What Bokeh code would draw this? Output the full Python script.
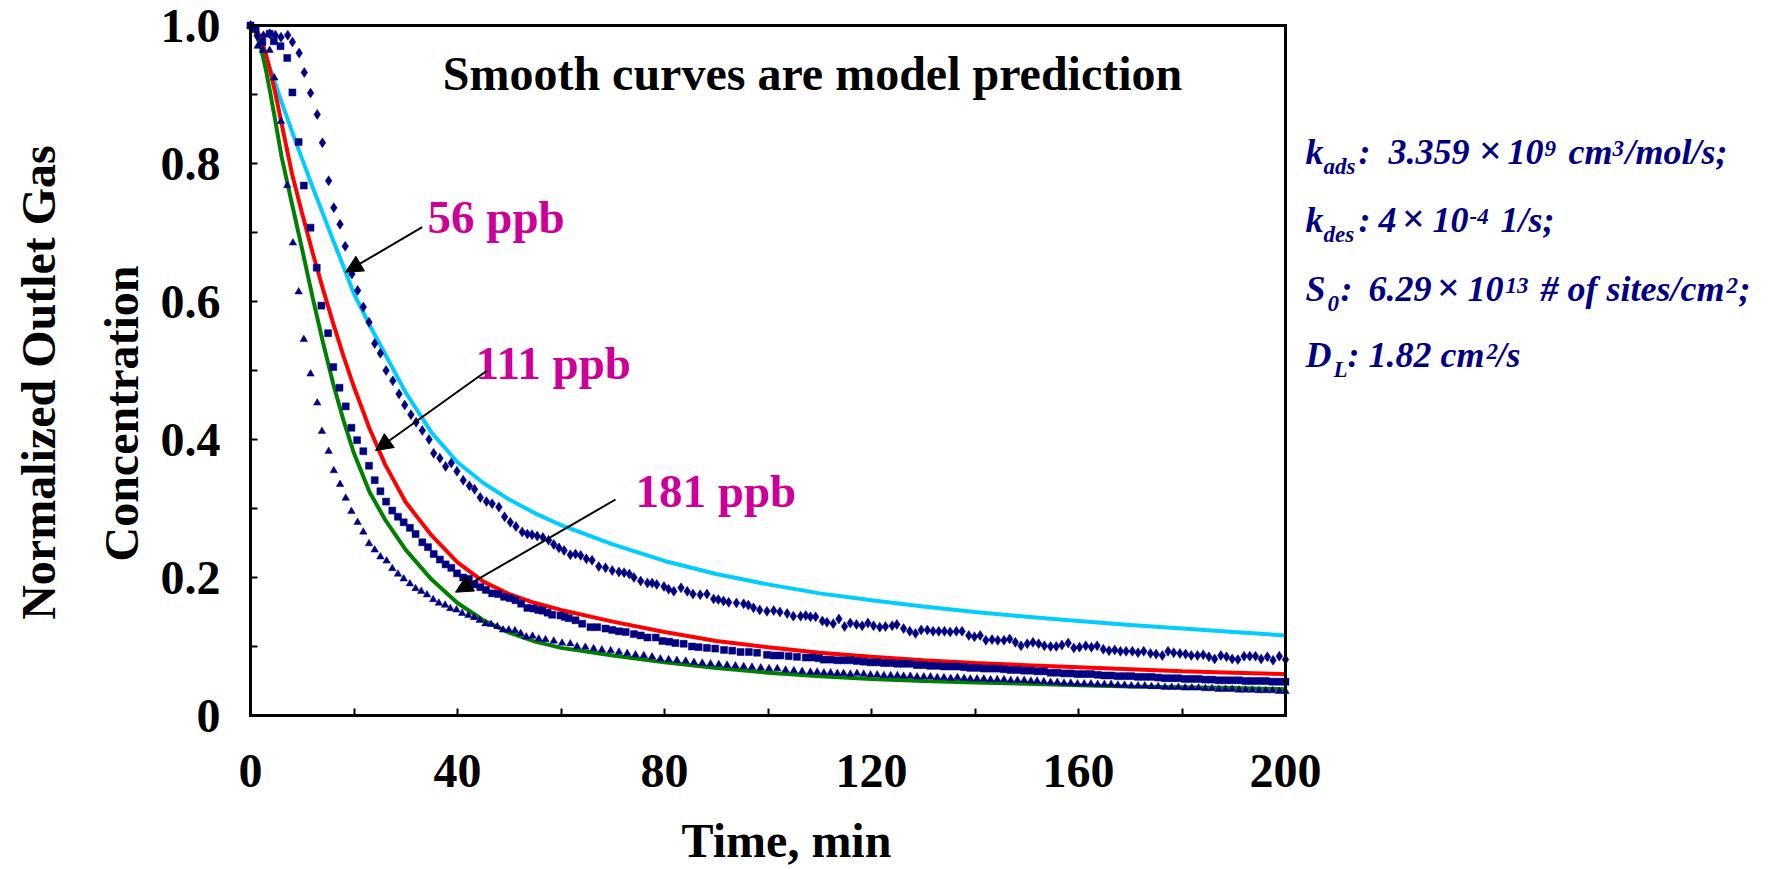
import math
from bokeh.plotting import figure
from bokeh.models import Range1d, FixedTicker, Label, Arrow, NormalHead, LinearAxis
from bokeh.embed import file_html
from bokeh.resources import INLINE

# ---------------- data ----------------
model_t = [0, 1, 2, 3, 4, 5, 6, 8, 10, 12, 14, 16, 18, 20, 23, 26, 30, 35, 40, 45,
           50, 55, 60, 70, 80, 90, 100, 110, 120, 130, 140, 150, 160, 170, 180, 190, 200]
model_56 = [1.000, 0.990, 0.975, 0.955, 0.933, 0.911, 0.889, 0.847, 0.806, 0.766, 0.727,
            0.688, 0.650, 0.611, 0.566, 0.524, 0.468, 0.410, 0.367, 0.337,
            0.313, 0.293, 0.276, 0.248, 0.224, 0.205, 0.190, 0.177, 0.167, 0.158,
            0.150, 0.143, 0.137, 0.131, 0.126, 0.121, 0.116]
model_111 = [1.000, 0.995, 0.982, 0.958, 0.928, 0.895, 0.858, 0.786, 0.727, 0.671, 0.618,
             0.568, 0.520, 0.476, 0.416, 0.364, 0.309, 0.261, 0.222, 0.194,
             0.176, 0.163, 0.153, 0.136, 0.121, 0.108, 0.099, 0.091, 0.085, 0.080,
             0.076, 0.073, 0.070, 0.067, 0.064, 0.062, 0.060]
model_181 = [1.000, 0.990, 0.968, 0.935, 0.895, 0.853, 0.810, 0.742, 0.675, 0.606, 0.541,
             0.480, 0.427, 0.380, 0.324, 0.284, 0.240, 0.197, 0.163, 0.138,
             0.120, 0.107, 0.098, 0.087, 0.077, 0.069, 0.062, 0.057, 0.053, 0.050,
             0.048, 0.046, 0.044, 0.042, 0.041, 0.040, 0.038]

# measured data, 56 ppb (diamonds)
t_56 = [0, 1.3, 2.5, 3.7, 4.8, 5.9, 7.2, 8.1, 9.4, 10.4, 11.6, 12.9, 13.9, 15.1, 16.1, 17.3,
        18.3, 19.6, 20.7, 21.8, 22.9, 24.0, 25.1, 26.2, 27.5, 28.7, 29.8, 31.0, 32.0, 33.2,
        34.5, 35.4, 36.6, 37.7, 38.8, 39.9, 41.1, 42.3, 43.3, 44.4, 45.6, 46.7, 48.0, 49.1,
        50.2, 51.3, 52.5, 53.5, 54.4, 55.4, 56.5, 57.6, 58.6, 59.6, 60.6, 61.8, 62.8, 63.8,
        64.9, 66.0, 67.3, 68.6, 69.9, 71.2, 72.2, 73.2, 74.1, 75.4, 76.7, 77.6, 78.5, 79.9,
        80.8, 81.8, 83.2, 84.4, 85.5, 86.9, 88.2, 89.5, 90.4, 91.4, 92.4, 93.9, 95.3, 96.2,
        97.2, 98.4, 99.8, 101.1, 102.3, 103.7, 104.9, 106.3, 107.3, 108.2, 109.2, 110.5,
        111.4, 112.6, 113.7, 114.8, 115.9, 117.1, 118.2, 119.3, 120.4, 121.6, 122.7, 124.0,
        124.9, 126.2, 127.4, 128.5, 129.6, 130.8, 131.9, 133.0, 134.1, 135.2, 136.4, 137.5,
        138.8, 139.9, 141.0, 142.1, 143.3, 144.4, 145.6, 146.7, 147.8, 148.9, 150.1, 151.2,
        152.3, 153.4, 154.6, 155.7, 156.8, 158.0, 159.1, 160.2, 161.4, 162.5, 163.6, 164.8,
        165.9, 167.0, 168.1, 169.2, 170.4, 171.5, 172.6, 173.9, 175.0, 176.2, 177.3, 178.4,
        179.6, 180.7, 181.8, 183.0, 184.1, 185.2, 186.3, 187.5, 188.6, 189.7, 190.8, 192.0,
        193.1, 194.2, 195.3, 196.5, 197.6, 198.8, 200.0]
c_56 = [1.000, 0.985, 0.985, 0.988, 0.986, 0.983, 0.986, 0.976, 0.960, 0.932, 0.902, 0.871,
        0.830, 0.775, 0.736, 0.712, 0.680, 0.640, 0.616, 0.592, 0.570, 0.539, 0.525, 0.500,
        0.485, 0.466, 0.450, 0.436, 0.425, 0.413, 0.400, 0.380, 0.373, 0.361, 0.366, 0.354,
        0.341, 0.333, 0.328, 0.316, 0.310, 0.307, 0.302, 0.288, 0.280, 0.274, 0.266, 0.263,
        0.262, 0.260, 0.258, 0.254, 0.248, 0.243, 0.239, 0.233, 0.234, 0.232, 0.227, 0.225,
        0.216, 0.214, 0.210, 0.208, 0.207, 0.205, 0.200, 0.195, 0.192, 0.192, 0.190, 0.187,
        0.183, 0.180, 0.185, 0.180, 0.176, 0.175, 0.176, 0.169, 0.168, 0.166, 0.164, 0.163,
        0.162, 0.160, 0.156, 0.153, 0.151, 0.152, 0.150, 0.148, 0.144, 0.144, 0.145, 0.143,
        0.143, 0.137, 0.135, 0.133, 0.140, 0.129, 0.134, 0.132, 0.130, 0.134, 0.130, 0.128,
        0.129, 0.130, 0.132, 0.126, 0.122, 0.119, 0.124, 0.124, 0.122, 0.122, 0.122, 0.121,
        0.122, 0.122, 0.116, 0.114, 0.116, 0.109, 0.110, 0.109, 0.109, 0.111, 0.106, 0.101,
        0.104, 0.106, 0.104, 0.101, 0.100, 0.100, 0.102, 0.105, 0.098, 0.099, 0.101, 0.099,
        0.101, 0.096, 0.094, 0.095, 0.093, 0.093, 0.093, 0.091, 0.093, 0.090, 0.089, 0.087,
        0.093, 0.091, 0.090, 0.089, 0.087, 0.087, 0.088, 0.085, 0.082, 0.087, 0.085, 0.082,
        0.081, 0.086, 0.086, 0.086, 0.082, 0.085, 0.080, 0.086, 0.081]

# measured data, 111 ppb (squares)
t_111 = [0, 1.0, 2.3, 3.7, 4.5, 5.8, 7.1, 8.1, 9.3, 10.3, 11.6, 12.8, 13.7, 15.0, 16.0, 17.2,
         18.4, 19.5, 20.6, 21.8, 22.9, 24.0, 25.1, 26.2, 27.4, 28.5, 29.6, 30.8, 31.9, 33.2,
         34.3, 35.4, 36.6, 37.7, 38.8, 39.9, 41.1, 42.2, 43.3, 44.4, 45.5, 46.7, 47.9, 49.0,
         50.1, 51.2, 52.3, 53.5, 54.7, 55.6, 56.4, 57.4, 58.3, 59.9, 60.7, 61.5, 62.8, 64.1,
         65.7, 67.0, 68.6, 69.9, 71.2, 72.5, 74.1, 75.4, 76.7, 78.3, 79.6, 80.9, 82.1, 83.7,
         85.3, 86.6, 88.2, 89.8, 91.5, 93.1, 94.7, 96.3, 97.9, 99.8, 101.1, 102.4, 104.0,
         105.6, 107.3, 108.6, 109.8, 110.8, 112.1, 113.4, 114.6, 115.9, 117.2, 118.5, 119.8,
         121.1, 122.4, 123.7, 125.0, 126.2, 127.5, 128.8, 130.1, 131.4, 132.7, 134.0, 135.3,
         136.6, 137.9, 139.1, 140.4, 141.7, 143.0, 144.3, 145.6, 146.9, 148.2, 149.5, 150.8,
         152.0, 153.3, 154.6, 155.9, 157.2, 158.5, 159.8, 161.1, 162.4, 163.7, 165.0, 166.3,
         167.6, 168.9, 170.2, 171.5, 172.8, 174.1, 175.4, 176.7, 178.0, 179.3, 180.6, 181.9,
         183.2, 184.5, 185.8, 187.1, 188.4, 189.7, 191.0, 192.3, 193.6, 194.9, 196.2, 197.5,
         198.8, 200.0]
c_111 = [1.000, 0.995, 0.976, 0.988, 0.977, 0.970, 0.953, 0.903, 0.831, 0.768, 0.707, 0.649,
         0.594, 0.554, 0.505, 0.475, 0.448, 0.417, 0.399, 0.383, 0.362, 0.341, 0.325, 0.310,
         0.297, 0.288, 0.280, 0.272, 0.263, 0.251, 0.244, 0.234, 0.226, 0.219, 0.214, 0.206,
         0.200, 0.198, 0.190, 0.186, 0.182, 0.177, 0.176, 0.172, 0.170, 0.167, 0.162, 0.156,
         0.155, 0.153, 0.152, 0.149, 0.146, 0.145, 0.143, 0.141, 0.138, 0.133, 0.128, 0.128,
         0.126, 0.124, 0.122, 0.121, 0.118, 0.116, 0.113, 0.113, 0.108, 0.107, 0.105, 0.104,
         0.100, 0.099, 0.098, 0.097, 0.095, 0.094, 0.092, 0.092, 0.091, 0.088, 0.087, 0.087,
         0.086, 0.085, 0.084, 0.084, 0.083, 0.081, 0.081, 0.080, 0.080, 0.080, 0.079, 0.078,
         0.077, 0.077, 0.076, 0.076, 0.075, 0.075, 0.075, 0.073, 0.073, 0.072, 0.072, 0.071,
         0.071, 0.071, 0.070, 0.069, 0.069, 0.068, 0.068, 0.068, 0.067, 0.066, 0.066, 0.065,
         0.065, 0.064, 0.064, 0.062, 0.062, 0.061, 0.061, 0.060, 0.060, 0.060, 0.059, 0.058,
         0.058, 0.057, 0.057, 0.057, 0.056, 0.056, 0.056, 0.055, 0.054, 0.054, 0.054, 0.053,
         0.053, 0.053, 0.052, 0.052, 0.051, 0.051, 0.051, 0.051, 0.050, 0.050, 0.050, 0.050,
         0.049, 0.049, 0.049]

# measured data, 181 ppb (triangles)
t_181 = [0, 1.4, 2.4, 3.7, 4.6, 5.9, 7.1, 8.2, 9.3, 10.3, 11.6, 12.9, 13.8, 15.1, 16.1, 17.3,
         18.4, 19.5, 20.7, 21.8, 22.9, 24.0, 25.1, 26.3, 27.4, 28.5, 29.6, 30.8, 31.9, 33.0,
         34.1, 35.3, 36.4, 37.6, 38.6, 39.8, 40.9, 42.1, 43.2, 44.3, 45.4, 46.5, 47.7, 48.8,
         49.9, 51.1, 52.2, 53.3, 54.5, 55.7, 57.0, 58.6, 60.2, 61.8, 63.1, 64.7, 66.3, 67.9,
         69.6, 71.2, 72.8, 74.4, 76.0, 77.6, 79.2, 80.8, 82.4, 84.1, 85.7, 87.3, 88.9, 90.5,
         92.1, 93.7, 95.3, 96.9, 98.6, 100.2, 101.8, 103.4, 105.0, 106.6, 108.2, 109.5, 110.8,
         112.1, 113.4, 114.6, 115.9, 117.2, 118.5, 119.8, 121.1, 122.4, 123.7, 125.0, 126.2,
         127.5, 128.8, 130.1, 131.4, 132.7, 134.0, 135.3, 136.6, 137.9, 139.1, 140.4, 141.7,
         143.0, 144.3, 145.6, 146.9, 148.2, 149.5, 150.8, 152.0, 153.3, 154.6, 155.9, 157.2,
         158.5, 159.8, 161.1, 162.4, 163.7, 165.0, 166.3, 167.6, 168.9, 170.2, 171.5, 172.8,
         174.1, 175.4, 176.7, 178.0, 179.3, 180.6, 181.9, 183.2, 184.5, 185.8, 187.1, 188.4,
         189.7, 191.0, 192.3, 193.6, 194.9, 196.2, 197.5, 198.8, 200.0]
c_181 = [1.000, 0.970, 0.964, 0.964, 0.924, 0.861, 0.768, 0.685, 0.614, 0.545, 0.495, 0.453,
         0.412, 0.383, 0.355, 0.335, 0.315, 0.296, 0.280, 0.266, 0.249, 0.240, 0.230, 0.224,
         0.213, 0.205, 0.198, 0.191, 0.184, 0.180, 0.175, 0.168, 0.163, 0.160, 0.155, 0.153,
         0.148, 0.145, 0.142, 0.138, 0.133, 0.132, 0.129, 0.124, 0.124, 0.123, 0.119, 0.114,
         0.115, 0.111, 0.110, 0.108, 0.105, 0.104, 0.100, 0.099, 0.097, 0.095, 0.094, 0.092,
         0.090, 0.088, 0.087, 0.085, 0.082, 0.081, 0.080, 0.079, 0.077, 0.076, 0.075, 0.074,
         0.073, 0.072, 0.071, 0.070, 0.069, 0.068, 0.068, 0.066, 0.065, 0.064, 0.063, 0.063,
         0.062, 0.062, 0.061, 0.061, 0.060, 0.061, 0.060, 0.059, 0.059, 0.058, 0.058, 0.058,
         0.057, 0.057, 0.056, 0.056, 0.056, 0.055, 0.055, 0.054, 0.055, 0.054, 0.053, 0.053,
         0.053, 0.052, 0.052, 0.052, 0.051, 0.051, 0.051, 0.050, 0.050, 0.049, 0.048, 0.048,
         0.047, 0.047, 0.046, 0.046, 0.046, 0.045, 0.045, 0.045, 0.044, 0.044, 0.043, 0.043,
         0.043, 0.042, 0.042, 0.041, 0.041, 0.041, 0.040, 0.040, 0.040, 0.039, 0.039, 0.038,
         0.038, 0.038, 0.037, 0.037, 0.037, 0.036, 0.036, 0.036, 0.035, 0.035]

x_ticks = [0, 40, 80, 120, 160, 200]
x_minor = [20, 60, 100, 140, 180]
y_ticks = [0, 0.2, 0.4, 0.6, 0.8, 1.0]
y_minor = [0.1, 0.3, 0.5, 0.7, 0.9]
y_tick_labels = ["0", "0.2", "0.4", "0.6", "0.8", "1.0"]
series_labels = ["56 ppb", "111 ppb", "181 ppb"]

# ---------------- layout (page pixels) ----------------
W, H = 1774, 869
FL, FR, FT, FB = 250, 1285, 25, 715   # where the axes box sits on the page
SERIF = "Liberation Serif"
NAVY = "#000080"
MAGENTA = "#CC0099"


def X(px):
    return (px - FL) / (FR - FL) * 200.0


def Y(py):
    return (FB - py) / (FB - FT)


def base(py, size):
    # Bokeh draws "alphabetic" text a bit low; compensate
    return py - 0.38 * size


# The frame covers the whole page; the visible axes box is drawn by fixed-location axes.
p = figure(width=W, height=H, output_backend="svg", toolbar_location=None,
           x_range=Range1d(X(0), X(W)), y_range=Range1d(Y(H), Y(0)), min_border=0)
p.title.visible = False
p.background_fill_color = "white"
p.border_fill_color = "white"
p.grid.visible = False
p.outline_line_color = None


def style_axis(ax):
    ax.axis_line_width = 3
    ax.axis_line_color = "black"
    ax.axis_line_cap = "square"
    ax.major_tick_in = 7
    ax.major_tick_out = 0
    ax.minor_tick_in = 7
    ax.minor_tick_out = 0
    ax.major_tick_line_width = 2
    ax.minor_tick_line_width = 2
    ax.major_label_text_font = SERIF
    ax.major_label_text_font_style = "bold"
    ax.major_label_text_font_size = "48px"
    ax.major_label_text_color = "black"


xa, ya = p.xaxis[0], p.yaxis[0]
style_axis(xa)
style_axis(ya)
xa.fixed_location = 0
xa.bounds = (0, 200)
xa.ticker = FixedTicker(ticks=x_ticks, minor_ticks=x_minor)
xa.major_label_standoff = 39
ya.fixed_location = 0
ya.bounds = (0, 1)
ya.ticker = FixedTicker(ticks=y_ticks, minor_ticks=y_minor)
ya.major_label_overrides = {v: s for v, s in zip(y_ticks, y_tick_labels)}
ya.major_label_standoff = 30

top = LinearAxis(fixed_location=1, bounds=(0, 200), ticker=FixedTicker(ticks=[]),
                 axis_line_width=3, axis_line_color="black", axis_line_cap="square",
                 major_label_text_font_size="0px")
right = LinearAxis(fixed_location=200, bounds=(0, 1), ticker=FixedTicker(ticks=[]),
                   axis_line_width=3, axis_line_color="black", axis_line_cap="square",
                   major_label_text_font_size="0px")
p.add_layout(top, "above")
p.add_layout(right, "right")

# model curves
p.line(model_t, model_56, line_color="#00CCFF", line_width=4)
p.line(model_t, model_111, line_color="#FF0000", line_width=4)
p.line(model_t, model_181, line_color="#008000", line_width=4)

# measured points
p.scatter(t_56, c_56, marker="diamond", size=10, fill_color=NAVY, line_color=NAVY, line_width=0.5)
p.scatter(t_111, c_111, marker="square", size=7, fill_color=NAVY, line_color=NAVY, line_width=0.5)
p.scatter(t_181, c_181, marker="triangle", size=7.5, fill_color=NAVY, line_color=NAVY, line_width=0.5)


def label(txt, px, py, size, color="black", style="bold", align="left", angle=0.0):
    if angle:
        x, y = X(px - 0.38 * size), Y(py)
    else:
        x, y = X(px), Y(base(py, size))
    p.add_layout(Label(x=x, y=y, text=txt, text_font=SERIF, text_font_style=style,
                       text_font_size=f"{size}px", text_color=color, text_align=align,
                       text_baseline="alphabetic", angle=angle))


label("Smooth curves are model prediction", 812, 91, 48, align="center")
label("Time, min", 786, 858, 48, align="center")
label("Normalized Outlet Gas", 56, 382, 48, align="center", angle=math.pi / 2)
label("Concentration", 139, 413, 48, align="center", angle=math.pi / 2)

label(series_labels[0], 427, 234, 47, color=MAGENTA)
label(series_labels[1], 475, 380, 47, color=MAGENTA)
label(series_labels[2], 635, 508, 47, color=MAGENTA)
for (x0, y0, x1, y1) in [(421.7, 226.7, 345, 271.7), (486.7, 370, 375, 450), (615, 499, 455, 591.7)]:
    p.add_layout(Arrow(x_start=X(x0), y_start=Y(y0), x_end=X(x1), y_end=Y(y1),
                       line_color="black", line_width=2,
                       end=NormalHead(size=17, fill_color="black", line_color="black")))

# parameter block (right side)
M, S, XS = 36, 23, 40
BI = "bold italic"
params = [
    ("k", 1305, 165, M), ("ads", 1323, 175, S), (":", 1358, 165, M), ("3.359", 1388, 165, M),
    ("\u00d7", 1478, 165, XS), ("10", 1507, 165, M), ("9", 1544, 157, S),
    ("cm", 1568, 165, M), ("3", 1612, 157, S), ("/mol/s;", 1625, 165, M),
    ("k", 1305, 233, M), ("des", 1323, 243, S), (":", 1358, 233, M), ("4", 1378, 233, M),
    ("\u00d7", 1401, 233, XS), ("10", 1432, 233, M), ("-4", 1469, 225, S), ("1/s;", 1500, 233, M),
    ("S", 1305, 302, M), ("0", 1327, 312, S), (":", 1340, 302, M), ("6.29", 1368, 302, M),
    ("\u00d7", 1436, 302, XS), ("10", 1467, 302, M), ("13", 1505, 294, S),
    ("# of sites/cm", 1540, 302, M), ("2", 1726, 294, S), (";", 1738, 302, M),
    ("D", 1305, 368, M), ("L", 1333, 378, S), (": 1.82 cm", 1347, 368, M),
    ("2", 1486, 360, S), ("/s", 1496, 368, M),
]
for txt, px, py, size in params:
    label(txt, px, py, size, color=NAVY, style=BI)

open("out.html", "w").write(file_html(p, INLINE))
